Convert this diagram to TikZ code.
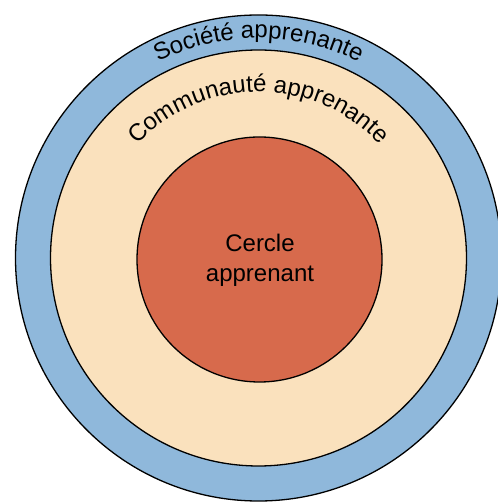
\documentclass[tikz,border=0pt]{standalone}
\usepackage{fontspec}
\setmainfont{Liberation Sans}
\usepackage{tikz}
\usetikzlibrary{decorations.text}
\usepackage{xcolor}
\definecolor{anelblue}{RGB}{143,184,219}
\definecolor{anelbeige}{RGB}{250,225,189}
\definecolor{anelred}{RGB}{215,106,76}
\newcommand{\anelfont}{\fontsize{24}{30}\selectfont}

\begin{document}
\begin{tikzpicture}[x=1pt, y=1pt]
  \def\cx{258.5}
  \def\cy{244}
  \useasboundingbox[fill=white] (0,0) rectangle (497,502);
  \coordinate (C) at (\cx,\cy);

  % Anel externo: sociedade
  \draw[fill=anelblue, draw=black, line width=1.3pt] (C) circle[radius=243pt];

  % Anel do meio: comunidade
  \draw[fill=anelbeige, draw=black, line width=1.3pt] (C) circle[radius=208pt];

  % Circulo central
  \draw[fill=anelred, draw=black, line width=1.3pt] ([shift={(1,-1.5)}]C) circle[radius=122.5pt];

  % Textos curvos
  \path[decorate, decoration={text along path, text align=center,
      text={|\anelfont|Société apprenante}}]
    ([shift={(180:220pt)}]C) arc[start angle=180, end angle=0, radius=220pt];
  \path[decorate, decoration={text along path, text align=center,
      text={|\anelfont|Communauté apprenante}}]
    ([shift={(180:166pt)}]C) arc[start angle=180, end angle=0, radius=166pt];

  % Texto central
  \node[font=\anelfont, align=center, inner sep=0pt] (cercle) at (260,242)
    {Cercle\\apprenant};
\end{tikzpicture}
\end{document}
